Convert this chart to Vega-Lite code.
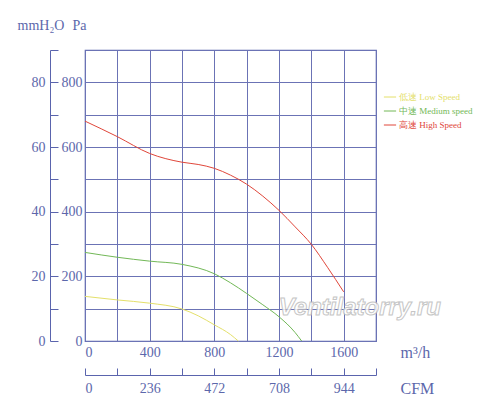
{
  "$schema": "https://vega.github.io/schema/vega-lite/v6.json",
  "autosize": {"type": "none"},
  "width": 291,
  "height": 291,
  "padding": {"left": 85, "top": 50, "right": 124, "bottom": 76},
  "background": "white",
  "config": {
    "view": {"stroke": "#5a64ad", "strokeWidth": 1.2},
    "axis": {
      "labelFont": "Liberation Serif",
      "titleFont": "Liberation Serif",
      "labelColor": "#5c67ab",
      "titleColor": "#5c67ab",
      "labelFontSize": 14,
      "titleFontSize": 14,
      "titleFontWeight": "normal",
      "domainColor": "#5a64ad",
      "tickColor": "#5a64ad",
      "gridColor": "#6b73b5",
      "gridOpacity": 1
    }
  },
  "datasets": {
    "curves": [
      {"flow": 0, "pa": 138, "speed": "低速 Low Speed"},
      {"flow": 200, "pa": 127, "speed": "低速 Low Speed"},
      {"flow": 400, "pa": 117, "speed": "低速 Low Speed"},
      {"flow": 600, "pa": 99, "speed": "低速 Low Speed"},
      {"flow": 700, "pa": 78, "speed": "低速 Low Speed"},
      {"flow": 800, "pa": 50, "speed": "低速 Low Speed"},
      {"flow": 900, "pa": 20, "speed": "低速 Low Speed"},
      {"flow": 948, "pa": 0, "speed": "低速 Low Speed"},
      {"flow": 0, "pa": 274, "speed": "中速 Medium speed"},
      {"flow": 200, "pa": 259, "speed": "中速 Medium speed"},
      {"flow": 400, "pa": 247, "speed": "中速 Medium speed"},
      {"flow": 600, "pa": 237, "speed": "中速 Medium speed"},
      {"flow": 800, "pa": 208, "speed": "中速 Medium speed"},
      {"flow": 900, "pa": 180, "speed": "中速 Medium speed"},
      {"flow": 1000, "pa": 147, "speed": "中速 Medium speed"},
      {"flow": 1100, "pa": 112, "speed": "中速 Medium speed"},
      {"flow": 1200, "pa": 75, "speed": "中速 Medium speed"},
      {"flow": 1300, "pa": 26, "speed": "中速 Medium speed"},
      {"flow": 1340, "pa": 0, "speed": "中速 Medium speed"},
      {"flow": 0, "pa": 680, "speed": "高速 High Speed"},
      {"flow": 200, "pa": 632, "speed": "高速 High Speed"},
      {"flow": 400, "pa": 580, "speed": "高速 High Speed"},
      {"flow": 600, "pa": 553, "speed": "高速 High Speed"},
      {"flow": 700, "pa": 546, "speed": "高速 High Speed"},
      {"flow": 800, "pa": 534, "speed": "高速 High Speed"},
      {"flow": 900, "pa": 513, "speed": "高速 High Speed"},
      {"flow": 1000, "pa": 485, "speed": "高速 High Speed"},
      {"flow": 1100, "pa": 448, "speed": "高速 High Speed"},
      {"flow": 1200, "pa": 404, "speed": "高速 High Speed"},
      {"flow": 1300, "pa": 353, "speed": "高速 High Speed"},
      {"flow": 1400, "pa": 299, "speed": "高速 High Speed"},
      {"flow": 1500, "pa": 228, "speed": "高速 High Speed"},
      {"flow": 1600, "pa": 152, "speed": "高速 High Speed"}
    ],
    "mm": [{"flow": 0, "mm": 0}, {"flow": 1800, "mm": 90}],
    "mark": [{"flow": 1700, "pa": 102, "label": "Ventilatorry.ru"}]
  },
  "resolve": {"scale": {"y": "independent"}, "axis": {"x": "independent", "y": "independent"}},
  "layer": [
    {
      "data": {"name": "curves"},
      "mark": {"type": "line", "interpolate": "monotone", "strokeWidth": 1},
      "encoding": {
        "x": {
          "field": "flow", "type": "quantitative",
          "scale": {"domain": [0, 1800], "nice": false},
          "axis": {
            "values": [0, 200, 400, 600, 800, 1000, 1200, 1400, 1600, 1800],
            "labelExpr": "datum.value % 400 == 0 && datum.value < 1800 ? datum.label : ''",
            "format": "d",
            "grid": true, "ticks": false, "domain": false,
            "labelPadding": 4,
            "title": "m³/h", "titleFontSize": 16, "titleX": 315, "titleY": 11,
            "titleAlign": "left", "titleBaseline": "middle"
          }
        },
        "y": {
          "field": "pa", "type": "quantitative",
          "scale": {"domain": [0, 900], "nice": false},
          "axis": {
            "values": [0, 100, 200, 300, 400, 500, 600, 700, 800, 900],
            "labelExpr": "datum.value % 200 == 0 ? datum.label : ''",
            "format": "d",
            "grid": true, "ticks": false, "domain": false,
            "labelPadding": 3,
            "title": "Pa", "titleAngle": 0, "titleX": -13, "titleY": -25,
            "titleAlign": "left", "titleBaseline": "middle"
          }
        },
        "color": {
          "field": "speed", "type": "nominal",
          "scale": {
            "domain": ["低速 Low Speed", "中速 Medium speed", "高速 High Speed"],
            "range": ["#e4e06a", "#72b857", "#e0463a"]
          },
          "legend": {
            "title": null,
            "orient": "none",
            "legendX": 298,
            "legendY": 40,
            "symbolType": "stroke",
            "symbolSize": 150,
            "symbolStrokeWidth": 1,
            "labelFont": "Liberation Serif",
            "labelFontSize": 9,
            "rowPadding": 2,
            "labelOffset": 2,
            "encode": {"labels": {"update": {"fill": {"scale": "color", "field": "value"}}}}
          }
        }
      }
    },
    {
      "data": {"name": "mm"},
      "mark": {"type": "point", "opacity": 0},
      "encoding": {
        "x": {
          "field": "flow", "type": "quantitative",
          "scale": {"domain": [0, 1800], "nice": false},
          "axis": {
            "orient": "bottom",
            "offset": 34,
            "values": [0, 200, 400, 600, 800, 1000, 1200, 1400, 1600, 1800],
            "labelExpr": "datum.value % 400 == 0 && datum.value < 1800 ? format(datum.value * 0.59, 'd') : ''",
            "grid": false,
            "tickSize": -7,
            "labelPadding": 13,
            "title": "CFM", "titleFontSize": 16, "titleX": 315, "titleY": 13,
            "titleAlign": "left", "titleBaseline": "middle"
          }
        },
        "y": {
          "field": "mm", "type": "quantitative",
          "scale": {"domain": [0, 90], "nice": false},
          "axis": {
            "orient": "left",
            "offset": 35,
            "values": [0, 10, 20, 30, 40, 50, 60, 70, 80, 90],
            "labelExpr": "datum.value % 20 == 0 ? datum.label : ''",
            "grid": false,
            "tickSize": -8,
            "labelPadding": 13,
            "title": "mmH₂O", "titleAngle": 0, "titleX": -33, "titleY": -25,
            "titleAlign": "left", "titleBaseline": "middle"
          }
        }
      }
    },
    {
      "data": {"name": "mark"},
      "mark": {
        "type": "text",
        "font": "Liberation Sans",
        "fontStyle": "italic",
        "fontWeight": "bold",
        "fontSize": 24,
        "fill": "#ffffff",
        "stroke": "#bcbcbc",
        "strokeWidth": 1,
        "opacity": 0.85
      },
      "encoding": {
        "x": {"field": "flow", "type": "quantitative", "scale": {"domain": [0, 1800], "nice": false}, "axis": null},
        "y": {"field": "pa", "type": "quantitative", "scale": {"domain": [0, 900], "nice": false}, "axis": null},
        "text": {"field": "label"}
      }
    }
  ]
}
